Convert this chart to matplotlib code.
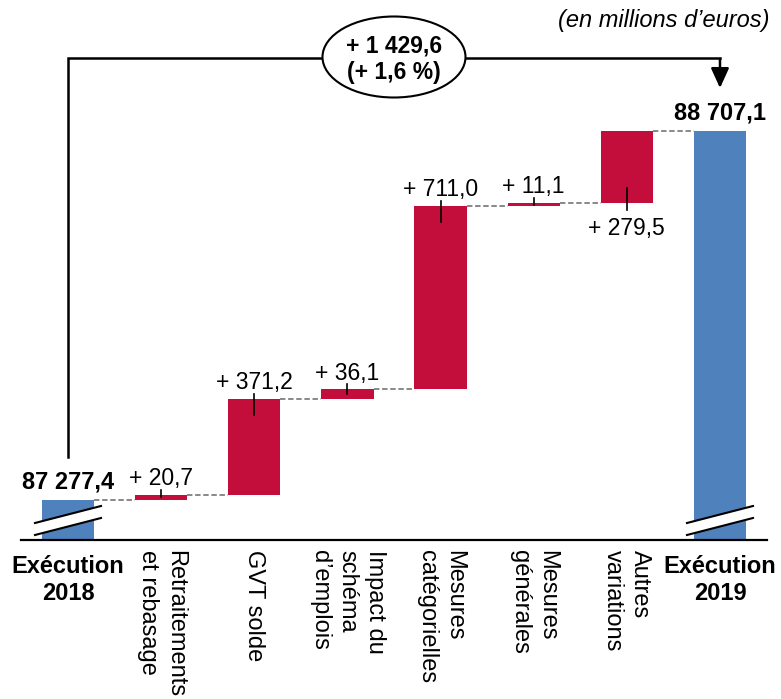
import matplotlib
matplotlib.use('Agg')
import matplotlib.pyplot as plt
from matplotlib.patches import Ellipse, Polygon

plt.rcParams['font.family'] = ['Liberation Sans', 'DejaVu Sans']

# data (millions d'euros)
categories = ['Exécution\n2018', 'Retraitements\net rebasage', 'GVT solde',
              'Impact du\nschéma\nd’emplois', 'Mesures\ncatégorielles',
              'Mesures\ngénérales', 'Autres\nvariations', 'Exécution\n2019']
start_value = 87277.4
end_value = 88707.1
increments = [20.7, 371.2, 36.1, 711.0, 11.1, 279.5]
label_side = ['above', 'above', 'above', 'above', 'above', 'below']

blue = '#4F81BD'
red = '#C30E3C'
grey = '#7F7F7F'

def fr(v, sign=False):
    s = f"{v:,.1f}".replace(',', ' ').replace('.', ',')
    return ('+ ' + s) if sign else s

# broken axis: bottom of the plot is not zero
ymin, ymax = 87122.0, 89215.0
PX = (ymax - ymin) / 540.0   # data units per pixel
XPX = 1 / 93.14              # category units per pixel
width = 0.56

fig = plt.figure(figsize=(7.81, 6.99), dpi=100)
ax = fig.add_axes([0, 159 / 699, 1, 540 / 699])
ax.set_xlim(-0.73, 7.655)
ax.set_ylim(ymin, ymax)
ax.axis('off')

# cumulative levels
bottoms = []
level = start_value
for inc in increments:
    bottoms.append(level)
    level += inc
n = len(categories)
xs_inc = list(range(1, 1 + len(increments)))

ax.bar(0, start_value - ymin, bottom=ymin, width=width, color=blue)
ax.bar(xs_inc, increments, bottom=bottoms, width=width, color=red)
ax.bar(n - 1, end_value - ymin, bottom=ymin, width=width, color=blue)

# dashed connectors
tops = [start_value] + [b + i for b, i in zip(bottoms, increments)]
for i, t in enumerate(tops):
    ax.plot([i + width / 2, i + 1 - width / 2], [t, t], color=grey, lw=1.3,
            ls=(0, (3, 1.5)))

# axis line
ax.plot([-0.5, n - 0.5], [ymin, ymin], color='k', lw=1.6, clip_on=False)

# break marks on the blue bars
for x in [0, n - 1]:
    x0, x1 = x - 33 * XPX, x + 33 * XPX
    ax.add_patch(Polygon([(x0, ymin + 5 * PX), (x1, ymin + 22 * PX),
                          (x1, ymin + 34 * PX), (x0, ymin + 17 * PX)],
                         closed=True, facecolor='white', edgecolor='none', zorder=3))
    ax.plot([x0, x1], [ymin + 5 * PX, ymin + 22 * PX], color='k', lw=1.5, zorder=4)
    ax.plot([x0, x1], [ymin + 17 * PX, ymin + 34 * PX], color='k', lw=1.5, zorder=4)

# start / end values
ax.annotate(fr(start_value), (0, start_value), xytext=(0, 8), textcoords='offset points',
            ha='center', va='baseline', fontsize=17, fontweight='bold')
ax.annotate(fr(end_value), (n - 1, end_value), xytext=(0, 8.5), textcoords='offset points',
            ha='center', va='baseline', fontsize=17, fontweight='bold')

# increment labels with leader lines
for x, b, inc, side in zip(xs_inc, bottoms, increments, label_side):
    h = inc / PX
    if side == 'above':
        t = b + inc
        ax.plot([x, x], [t + 5 * PX, t - min(16, h * 0.5) * PX], color='k', lw=1.2, zorder=4)
        ax.annotate(fr(inc, True), (x, t), xytext=(0, 7), textcoords='offset points',
                    ha='center', va='baseline', fontsize=16.5)
    else:
        ax.plot([x, x], [b - 7 * PX, b + min(15, h * 0.5) * PX], color='k', lw=1.2, zorder=4)
        ax.annotate(fr(inc, True), (x, b), xytext=(0, -10), textcoords='offset points',
                    ha='center', va='top', fontsize=16.5)

# category labels
for i, lab in enumerate(categories):
    if i == 0 or i == n - 1:
        ax.annotate(lab, (i, ymin), xytext=(0, -11), textcoords='offset points',
                    ha='center', va='top', fontsize=17, fontweight='bold',
                    multialignment='center', linespacing=1.2, annotation_clip=False)
    else:
        ax.annotate(lab, (i, ymin), xytext=(0, -7), textcoords='offset points',
                    ha='center', va='top', rotation=270, fontsize=17,
                    multialignment='left', linespacing=1.3, annotation_clip=False)

# total variation bracket
total = sum(increments)
pct = total / start_value * 100
yb = ymax - 58 * PX
ax.plot([0, 0, n - 1], [start_value + 43 * PX, yb, yb], color='k', lw=1.8,
        solid_joinstyle='miter')
ax.annotate('', xy=(n - 1, end_value + 43 * PX), xytext=(n - 1, yb - 0.9 * PX),
            arrowprops=dict(arrowstyle='-|>,head_length=0.55,head_width=0.25',
                            mutation_scale=22, color='k', lw=1.8,
                            shrinkA=0, shrinkB=0))
ax.add_patch(Ellipse(((n - 1) / 2, ymax - 57 * PX), 143 * XPX, 81 * PX,
                     facecolor='white', edgecolor='k', lw=1.5, zorder=5))
ax.text((n - 1) / 2, ymax - 46 * PX, fr(total, True), ha='center', va='center',
        fontsize=16.5, fontweight='bold', zorder=6)
ax.text((n - 1) / 2, ymax - 73 * PX, '(+ ' + f"{pct:.1f}".replace('.', ',') + ' %)',
        ha='center', va='center', fontsize=16.5, fontweight='bold', zorder=6)

fig.text(770 / 781, 1 - 21 / 699, '(en millions d’euros)', ha='right', va='center',
         fontsize=17, style='italic')

fig.savefig('out.png', dpi=100)
